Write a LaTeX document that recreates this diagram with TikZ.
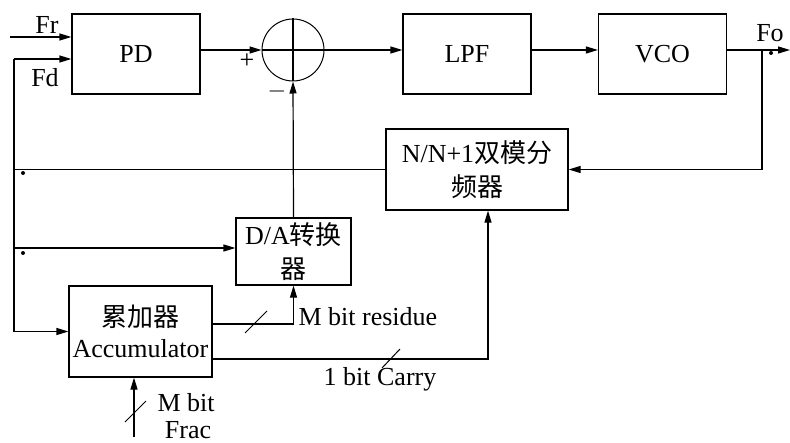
\documentclass[tikz,border=0pt]{standalone}
\usepackage{fontspec}
\setmainfont{Liberation Serif}
\newfontfamily\cjk{Noto Sans CJK SC}
\usetikzlibrary{arrows.meta,positioning,calc}

\begin{document}
\begin{tikzpicture}[
            x=0.5pt, y=-0.5pt, line width=0.6pt,
            blockbox/.style={draw, rectangle, inner sep=0pt, align=center, font=\fontsize{13}{17}\selectfont},
            sumnode/.style={draw, circle, inner sep=0pt, minimum size=31pt, line width=0.5pt},
            lbl/.style={inner sep=0pt, font=\fontsize{13}{15}\selectfont},
            sig/.style={-{Triangle[length=6pt,width=3.5pt]}}
        ]
            \useasboundingbox (0,0) rectangle (790,443);

            % forward path
            \node[blockbox, minimum width=64pt, minimum height=40pt] (pd) at (136,54) {PD};
            \node[sumnode] (sum) at (293,50) {};
            \node[blockbox, minimum width=64pt, minimum height=40pt] (lpf) at (467,54) {LPF};
            \node[blockbox, minimum width=64pt, minimum height=40pt] (vco) at (662.5,54) {VCO};

            % feedback blocks
            \node[blockbox, minimum width=91pt, minimum height=40.5pt] (div) at (477,169.5) {N/N+1{\cjk 双模分}\\{\cjk 频器}};
            \node[blockbox, minimum width=57.5pt, minimum height=33.5pt] (da) at (293.5,251.5) {D/A{\cjk 转换}\\{\cjk 器}};
            \node[blockbox, minimum width=71.5pt, minimum height=45.5pt, font=\fontsize{13}{15.5}\selectfont] (acc) at (140.5,331.5) {{\cjk 累加器}\\Accumulator};

            \coordinate (fr) at (10,37);
            \coordinate (lt) at (14,59);
            \coordinate (out) at (790,50);
            \coordinate (tap) at (762,50);
            \coordinate (fracin) at (134,437);
            \coordinate (dain) at ([yshift=1.75pt]da.west);

            % labels
            \node[lbl] (frl) at (47,25) {Fr};
            \node[lbl] (fdl) at (45,78) {Fd};
            \node[lbl] (fol) at (770,33) {Fo};
            \node[lbl] (plus) at (247,61) {+};
            \node[lbl] (minus) at (277,92) {$-$};
            \node[lbl, anchor=west] (resl) at (298,317) {M bit residue};
            \node[lbl] (carl) at (380,379) {1 bit Carry};
            \node[lbl, anchor=west] (mbl) at (157,403) {M bit};
            \node[lbl] (fracl) at (188,430) {Frac};

            % connectors
            \draw[sig] (fr) -- (fr -| pd.west);
            \draw[sig] (lt) -- (lt -| pd.west);
            \draw[sig] (pd.east |- sum) -- (sum.west);
            \draw (sum.west) -- (sum.east);
            \draw (sum.north) -- (sum.south);
            \draw[sig] (sum.east) -- (lpf.west |- sum);
            \draw[sig] (lpf.east |- sum) -- (vco.west |- sum);
            \draw[sig] (vco.east |- sum) -- (out);
            \draw[sig] (tap) |- (div.east);
            \draw (div.west) -- (div.west -| lt);
            \draw[sig] (lt) |- (acc.west);
            \draw[sig] (lt |- dain) -- (dain);
            \draw[sig] (da.north) -- (sum.south);
            \draw[sig] ([yshift=3.75pt]acc.east) -| (da.south);
            \draw[sig] ([yshift=-13.75pt]acc.east) -| ([xshift=5.5pt]div.south);
            \draw[sig] (fracin) -- (fracin |- acc.south);

            % bus marks
            \draw[line width=0.5pt] (245,333) -- (267,311);
            \draw[line width=0.5pt] (382,368) -- (400,349);
            \draw[line width=0.5pt] (125,422) -- (146,401);

            % junction dots
            \fill (23,173) circle (1pt);
            \fill (23,253) circle (1pt);
            \fill (771,53) circle (1pt);
        \end{tikzpicture}
\end{document}
